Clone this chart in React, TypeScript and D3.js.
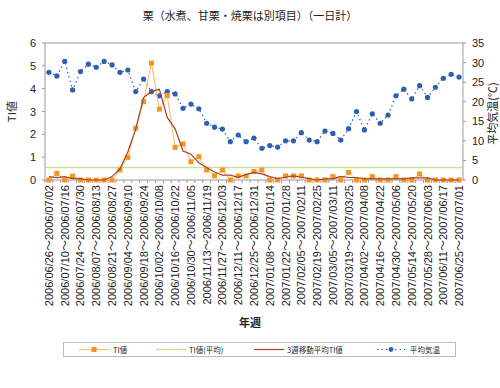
import React from 'react';
import * as d3 from 'd3';

const weekStarts = [
  '2006/06/26', '2006/07/03', '2006/07/10', '2006/07/17', '2006/07/24', '2006/07/31', '2006/08/07', '2006/08/14',
  '2006/08/21', '2006/08/28', '2006/09/04', '2006/09/11', '2006/09/18', '2006/09/25', '2006/10/02', '2006/10/09',
  '2006/10/16', '2006/10/23', '2006/10/30', '2006/11/06', '2006/11/13', '2006/11/20', '2006/11/27', '2006/12/04',
  '2006/12/11', '2006/12/18', '2006/12/25', '2007/01/01', '2007/01/08', '2007/01/15', '2007/01/22', '2007/01/29',
  '2007/02/05', '2007/02/12', '2007/02/19', '2007/02/26', '2007/03/05', '2007/03/12', '2007/03/19', '2007/03/26',
  '2007/04/02', '2007/04/09', '2007/04/16', '2007/04/23', '2007/04/30', '2007/05/07', '2007/05/14', '2007/05/21',
  '2007/05/28', '2007/06/04', '2007/06/11', '2007/06/18', '2007/06/25',
];
const weekEnds = [
  '2006/07/02', '2006/07/09', '2006/07/16', '2006/07/23', '2006/07/30', '2006/08/06', '2006/08/13', '2006/08/20',
  '2006/08/27', '2006/09/03', '2006/09/10', '2006/09/17', '2006/09/24', '2006/10/01', '2006/10/08', '2006/10/15',
  '2006/10/22', '2006/10/29', '2006/11/05', '2006/11/12', '2006/11/19', '2006/11/26', '2006/12/03', '2006/12/10',
  '2006/12/17', '2006/12/24', '2006/12/31', '2007/01/07', '2007/01/14', '2007/01/21', '2007/01/28', '2007/02/04',
  '2007/02/11', '2007/02/18', '2007/02/25', '2007/03/04', '2007/03/11', '2007/03/18', '2007/03/25', '2007/04/01',
  '2007/04/08', '2007/04/15', '2007/04/22', '2007/04/29', '2007/05/06', '2007/05/13', '2007/05/20', '2007/05/27',
  '2007/06/03', '2007/06/10', '2007/06/17', '2007/06/24', '2007/07/01',
];

const tiValues = [
  0, 0.29, 0, 0.17, 0, 0, 0, 0, 0, 0.44, 0.99, 2.27, 3.43, 5.12, 3.1, 3.7,
  1.43, 1.58, 0.8, 1.02, 0.44, 0.18, 0.44, 0, 0.18, 0.18, 0.37, 0.44, 0, 0, 0.18, 0.18,
  0.18, 0, 0, 0, 0.15, 0, 0.33, 0, 0, 0.15, 0, 0, 0.15, 0, 0, 0.26,
  0, 0, 0, 0, 0,
];
const tiMoving = [
  0.15, 0.1, 0.15, 0.06, 0.06, 0, 0, 0, 0.15, 0.48, 1.23, 2.23, 3.61, 3.88, 3.97, 2.74,
  2.24, 1.27, 1.13, 0.75, 0.55, 0.35, 0.21, 0.21, 0.12, 0.24, 0.33, 0.27, 0.15, 0.06, 0.12, 0.18,
  0.12, 0.06, 0, 0.05, 0.05, 0.16, 0.11, 0.11, 0.05, 0.05, 0.05, 0.05, 0.05, 0.05, 0.09, 0.09,
  0.09, 0, 0, 0, 0,
];
const tiAverage = 0.55;
const temperature = [
  27.5, 26.6, 30.3, 23.0, 27.7, 29.6, 28.8, 30.3, 29.4, 27.5, 28.1, 22.6, 25.8, 22.6, 21.5, 22.6,
  22.0, 18.3, 19.4, 18.2, 14.5, 13.5, 13.0, 9.8, 11.5, 9.8, 10.7, 8.1, 8.8, 8.4, 10.0, 10.0,
  12.1, 10.2, 9.8, 12.5, 11.9, 10.2, 13.1, 17.5, 12.8, 16.9, 14.5, 16.6, 21.5, 23.2, 20.7, 24.1,
  21.1, 23.7, 26.0, 27.0, 26.3,
];
const leftTicks = [0, 1, 2, 3, 4, 5, 6];
const rightTicks = [0, 5, 10, 15, 20, 25, 30, 35];

const W = 500;
const H = 388;
const m = { left: 45, right: 463, top: 43, bottom: 180 };
const FONT = "'Liberation Sans', 'Noto Sans CJK JP', sans-serif";
const JP = "'Noto Sans CJK JP', sans-serif";

const C_TI = '#f7941d';
const C_TI_LINE = '#fbb862';
const C_AVG = '#c8e29a';
const C_MOV = '#a5422c';
const C_TEMP = '#2f5fb3';

export default function App() {
  const idx = d3.range(weekStarts.length);
  const x = d3.scaleBand<number>().domain(idx).range([m.left, m.right]);
  const cx = (i: number) => (x(i) as number) + x.bandwidth() / 2;
  const yL = d3.scaleLinear().domain([0, 6]).range([m.bottom, m.top]);
  const yR = d3.scaleLinear().domain([0, 35]).range([m.bottom, m.top]);

  const lineL = d3.line<number>().x((_, i) => cx(i)).y((d) => yL(d));
  const lineR = d3.line<number>().x((_, i) => cx(i)).y((d) => yR(d));

  return (
    <svg width={W} height={H} style={{ position: 'absolute', left: 0, top: 0, background: '#fff' }}>
      <text x={250} y={20} textAnchor="middle" fontFamily={JP} fontSize={11} fill="#222">
        栗（水煮、甘栗・焼栗は別項目）（一日計）
      </text>

      <rect x={m.left} y={m.top} width={m.right - m.left} height={m.bottom - m.top} fill="none" stroke="#999" strokeWidth={1} />

      {leftTicks.map((t) => (
        <g key={'l' + t}>
          <line x1={m.left - 3} x2={m.left} y1={yL(t)} y2={yL(t)} stroke="#999" />
          <text x={m.left - 9} y={yL(t) + 4} textAnchor="end" fontFamily={FONT} fontSize={11} fill="#222">{t}</text>
        </g>
      ))}
      {rightTicks.map((t) => (
        <g key={'r' + t}>
          <line x1={m.right} x2={m.right + 3} y1={yR(t)} y2={yR(t)} stroke="#999" />
          <text x={m.right + 9} y={yR(t) + 4} textAnchor="start" fontFamily={FONT} fontSize={11} fill="#222">{t}</text>
        </g>
      ))}
      {idx.map((i) => (
        <line key={'xt' + i} x1={x(i) as number} x2={x(i) as number} y1={m.bottom} y2={m.bottom + 3} stroke="#999" />
      ))}

      <text transform={`translate(16,${(m.top + m.bottom) / 2}) rotate(-90)`} textAnchor="middle" fontFamily={JP} fontSize={11} fill="#222">TI値</text>
      <text transform={`translate(497,${(m.top + m.bottom) / 2 + 2}) rotate(-90)`} textAnchor="middle" fontFamily={JP} fontSize={11} fill="#222">平均気温(℃)</text>

      {idx.filter((i) => i % 2 === 0).map((i) => (
        <text key={'xl' + i} transform={`translate(${cx(i) + 4},${m.bottom + 5}) rotate(-90)`} textAnchor="end"
          fontFamily={FONT} fontSize={11} fill="#222">
          {weekStarts[i]}～{weekEnds[i]}
        </text>
      ))}
      <text x={250} y={327} textAnchor="middle" fontFamily={JP} fontSize={11} fontWeight="bold" fill="#222">年週</text>

      <line x1={m.left} x2={m.right} y1={yL(tiAverage)} y2={yL(tiAverage)} stroke={C_AVG} strokeWidth={1.5} />
      <path d={lineR(temperature) || ''} fill="none" stroke={C_TEMP} strokeWidth={1.2} strokeDasharray="1.5,3" />
      {temperature.map((d, i) => (
        <circle key={'t' + i} cx={cx(i)} cy={yR(d)} r={2.6} fill={C_TEMP} />
      ))}
      <path d={lineL(tiValues) || ''} fill="none" stroke={C_TI_LINE} strokeWidth={1} />
      {tiValues.map((d, i) => (
        <rect key={'s' + i} x={cx(i) - 2.5} y={yL(d) - 2.5} width={5} height={5} fill={C_TI} />
      ))}
      <path d={lineL(tiMoving) || ''} fill="none" stroke={C_MOV} strokeWidth={1.2} />

      <g fontFamily={JP} fontSize={7.5} fill="#222">
        <rect x={63.5} y={342.5} width={392} height={14} fill="none" stroke="#bbb" />
        <line x1={79} x2={109} y1={349.5} y2={349.5} stroke={C_TI_LINE} strokeWidth={1} />
        <rect x={91.5} y={347} width={5} height={5} fill={C_TI} />
        <text x={113} y={352.5}>TI値</text>
        <line x1={156} x2={186} y1={349.5} y2={349.5} stroke={C_AVG} strokeWidth={1.5} />
        <text x={189} y={352.5}>TI値(平均)</text>
        <line x1={254} x2={284} y1={349.5} y2={349.5} stroke={C_MOV} strokeWidth={1.2} />
        <text x={287} y={352.5}>3週移動平均TI値</text>
        <line x1={377} x2={405} y1={349.5} y2={349.5} stroke={C_TEMP} strokeWidth={1} strokeDasharray="1.5,3" />
        <circle cx={391} cy={349.5} r={2.4} fill={C_TEMP} />
        <text x={410} y={352.5}>平均気温</text>
      </g>
    </svg>
  );
}
